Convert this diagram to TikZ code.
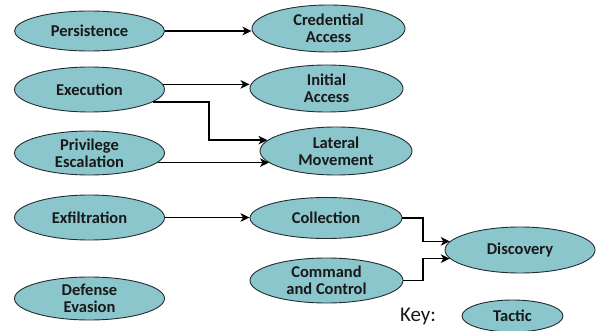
\documentclass[tikz,border=0pt]{standalone}
\usepackage{fontspec}
\setmainfont{Carlito}
\usetikzlibrary{shapes.geometric,arrows.meta}
\definecolor{tacticfill}{RGB}{138,198,204}
\definecolor{tacticedge}{RGB}{35,45,48}
\definecolor{labeltext}{RGB}{25,25,25}
\tikzset{
  tactic/.style={ellipse, draw=tacticedge, line width=0.9pt, fill=tacticfill,
    inner sep=0pt, align=center, text=labeltext,
    font=\fontsize{16.5}{17}\selectfont\bfseries},
  link/.style={draw=black, line width=1.7pt,
    -{Stealth[length=9pt,width=8.5pt,inset=2.5pt]}},
}
\begin{document}
\begin{tikzpicture}[x=1pt,y=-1pt]
\useasboundingbox (0,0) rectangle (597,331);

% left column
\node[tactic, minimum width=150pt, minimum height=40pt] (persistence) at (89.5,31) {Persistence};
\node[tactic, minimum width=150pt, minimum height=45pt] (execution) at (89.5,89.5) {Execution};
\node[tactic, minimum width=150pt, minimum height=44pt] (privilege) at (89.5,153) {Privilege\\Escalation};
\node[tactic, minimum width=150pt, minimum height=45pt] (exfil) at (89.5,217.5) {Exfiltration};
\node[tactic, minimum width=150pt, minimum height=43pt] (defense) at (89.5,298.5) {Defense\\Evasion};

% middle column
\node[tactic, minimum width=153pt, minimum height=47pt] (credential) at (328.5,28.5) {Credential\\Access};
\node[tactic, minimum width=153pt, minimum height=47pt] (initial) at (326.5,88.5) {Initial\\Access};
\node[tactic, minimum width=152pt, minimum height=48pt] (lateral) at (336,151) {Lateral\\Movement};
\node[tactic, minimum width=152pt, minimum height=41pt] (collection) at (326,218) {Collection};
\node[tactic, minimum width=153pt, minimum height=45pt] (command) at (326.5,280.5) {Command\\and Control};

% right column
\node[tactic, minimum width=150pt, minimum height=46pt] (discovery) at (520,250) {Discovery};

% key
\node[text=labeltext, font=\fontsize{21}{22}\selectfont] (keylabel) at (418,316) {Key:};
\node[tactic, minimum width=101pt, minimum height=32pt] (keytactic) at (512.5,316) {Tactic};

% elbow positions of the bent connectors
\coordinate (elbowA) at (209,140);
\coordinate (elbowB) at (423,242);

% connectors
\draw[link] (persistence.east) -- (persistence.east -| credential.west);
\draw[link] (execution.4) -- (execution.4 -| initial.west);
\draw[link] (execution.-11) -| (elbowA |- lateral.171) -- (lateral.171);
\draw[link] (privilege.-8) -- (privilege.-8 -| lateral.190);
\draw[link] (exfil.east) -- (exfil.east -| collection.west);
\draw[link] (collection.east) -| (elbowB |- discovery.173) -- (discovery.173);
\draw[link] (command.east) -| (elbowB |- discovery.187) -- (discovery.187);
\end{tikzpicture}
\end{document}
